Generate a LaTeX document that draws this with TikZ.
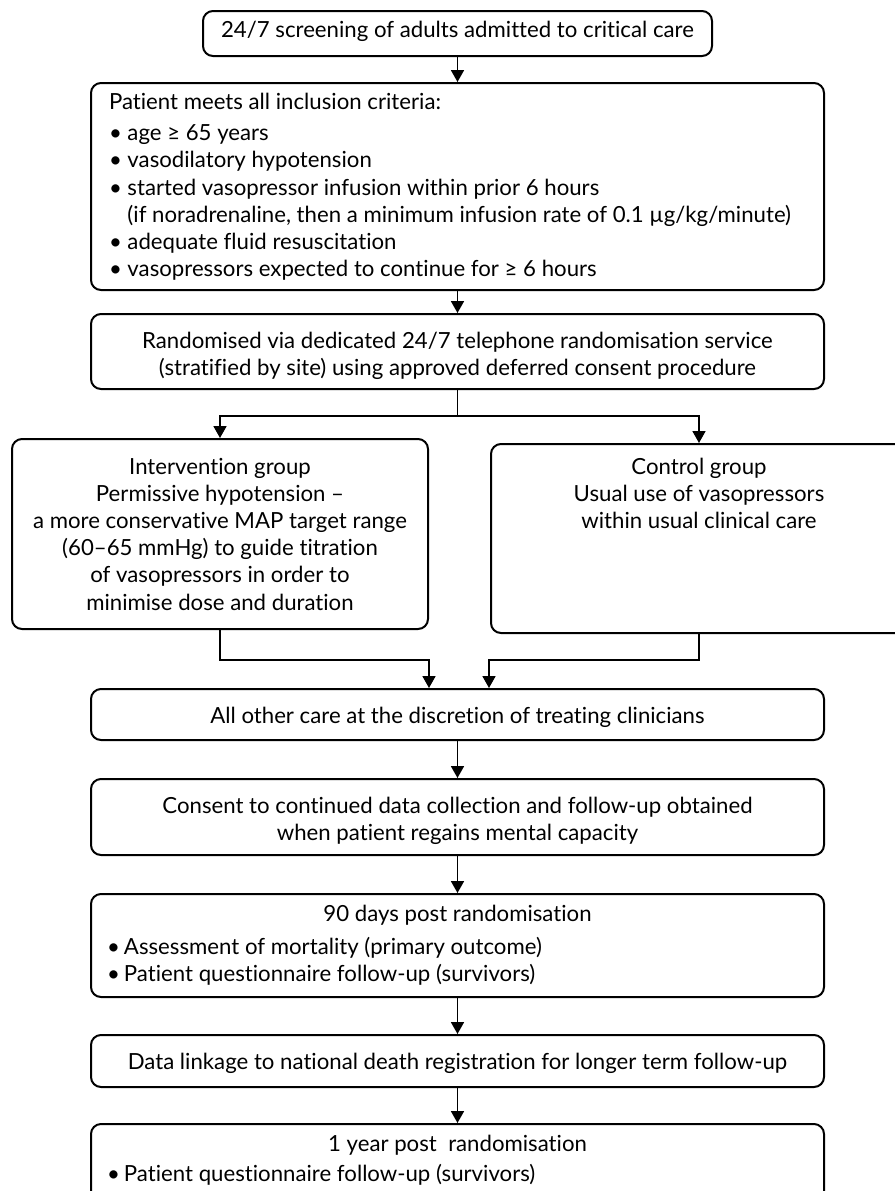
\documentclass[tikz,border=0pt]{standalone}
\usepackage{fontspec}
\setmainfont{Lato}[Ligatures=NoCommon]
\usetikzlibrary{arrows.meta}
\newcommand\fl[1]{\rule{0pt}{#1}}
\newcommand\boxtext[3]{\begin{minipage}[c][#2][t]{#1}#3\end{minipage}}
\newcommand\bul{\hspace*{-1pt}\makebox[8.5pt][l]{•}}
\newcommand\bulb{\makebox[9.25pt][l]{•}}
\begin{document}
\begin{tikzpicture}[x=0.5pt,y=-0.5pt,
  box/.style={draw, line width=1pt, rounded corners=5pt, inner sep=0pt, anchor=north west},
  lbox/.style={box, inner xsep=9pt},
  arr/.style={line width=0.9pt, -{Triangle[length=6pt,width=6.5pt]}},
  font=\fontsize{11.1pt}{13.6pt}\selectfont]
\useasboundingbox (0,0) rectangle (895,1191);
\clip (0,0) rectangle (895,1191);

\node[box] (b1) at (202,10) {\boxtext{254.5pt}{22.5pt}{\centering\fl{13pt}24/7 screening of adults admitted to critical care}};

\node[lbox] (b2) at (90,82) {\boxtext{348.5pt}{103.5pt}{\raggedright\fl{13pt}Patient meets all inclusion criteria:\par\vspace{2.25pt}
\bulb age ≥ 65 years\\
\bulb vasodilatory hypotension\\
\bulb started vasopressor infusion within prior 6 hours\\
\hspace*{9.25pt}(if noradrenaline, then a minimum infusion rate of 0.1 µg/kg/minute)\\
\bulb adequate fluid resuscitation\\
\bulb vasopressors expected to continue for ≥ 6 hours}};

\node[box] (b3) at (90,313) {\boxtext{366.5pt}{37.5pt}{\centering\fl{17pt}Randomised via dedicated 24/7 telephone randomisation service\\(stratified by site) using approved deferred consent procedure}};

\node[box] (b4) at (11,438) {\boxtext{208pt}{95pt}{\centering\fl{17.5pt}Intervention group\\Permissive hypotension –\\a more conservative MAP target range\\(60–65 mmHg) to guide titration\\of vasopressors in order to\\minimise dose and duration}};

\node[box] (b5) at (490,443) {\boxtext{208pt}{94.5pt}{\centering\fl{15pt}Control group\\Usual use of vasopressors\\within usual clinical care}};

\node[box] (b6) at (90,688) {\boxtext{366.5pt}{25.5pt}{\centering\fl{17pt}All other care at the discretion of treating clinicians}};

\node[box] (b7) at (90,778) {\boxtext{366.5pt}{38pt}{\centering\fl{17pt}Consent to continued data collection and follow-up obtained\\when patient regains mental capacity}};

\node[lbox] (b8) at (90,893) {\boxtext{348.5pt}{51.5pt}{{\centering\fl{13.5pt}90 days post randomisation\par}\vspace{3pt}\raggedright
\bul Assessment of mortality (primary outcome)\\
\bul Patient questionnaire follow-up (survivors)}};

\node[box] (b9) at (90,1034) {\boxtext{366.5pt}{26pt}{\centering\fl{17pt}Data linkage to national death registration for longer term follow-up}};

\node[lbox] (b10) at (90,1123) {\boxtext{348.5pt}{80pt}{{\centering\fl{13.5pt}1 year post~ randomisation\par}\vspace{1.5pt}\raggedright
\bul Patient questionnaire follow-up (survivors)}};

\draw[arr] (b1.south) -- (b2.north);
\draw[arr] (b2.south) -- (b3.north);
\draw[arr] (b3.south) -- ++(0,26) -| (b4.north);
\draw[arr] (b3.south) -- ++(0,26) -| (b5.north);
\draw[arr] (b4.south) -- ++(0,30) -| ([xshift=-14.25pt]b6.north);
\draw[arr] (b5.south) -- ++(0,26) -| ([xshift=15.75pt]b6.north);
\draw[arr] (b6.south) -- (b7.north);
\draw[arr] (b7.south) -- (b8.north);
\draw[arr] (b8.south) -- (b9.north);
\draw[arr] (b9.south) -- (b10.north);
\end{tikzpicture}
\end{document}
